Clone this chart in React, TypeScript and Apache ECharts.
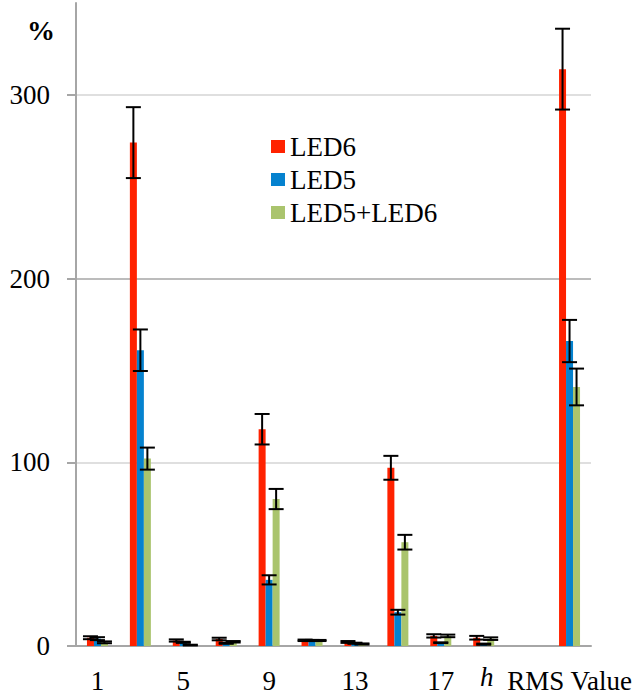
import React, { useEffect, useRef } from "react";
import * as echarts from "echarts";

// Harmonic order h (odd harmonics 1..19), a spacer slot, then the RMS value
const categories = ["1", "3", "5", "7", "9", "11", "13", "15", "17", "19", "", "RMS Value"];
const labelledIndices = [0, 2, 4, 6, 8, 11];

const led6 = [4.5, 274, 3, 3.8, 118, 3.1, 2.2, 97, 5.5, 4.5, null, 314];
const led6Err = [0.8, 19.3, 0.6, 0.7, 8.3, 0.4, 0.5, 6.5, 0.9, 1, null, 22];

const led5 = [4, 161, 2, 1.5, 36, 3, 1.5, 18.4, 1.8, 1, null, 166];
const led5Err = [0.8, 11.3, 0.3, 0.3, 2.5, 0.3, 0.3, 1.3, 0.2, 0.3, null, 11.5];

const ledBoth = [2, 102, 0.5, 2.3, 80, 3, 1.1, 56.5, 5.5, 4, null, 141];
const ledBothErr = [0.5, 6, 0.2, 0.4, 5.5, 0.3, 0.3, 4, 0.7, 0.7, null, 10];

const yTickLabels = [0, 100, 200, 300];

const seriesDefs = [
  { name: "LED6", values: led6, errors: led6Err, color: "#ff2200" },
  { name: "LED5", values: led5, errors: led5Err, color: "#0582cf" },
  { name: "LED5+LED6", values: ledBoth, errors: ledBothErr, color: "#aac46d" },
];

const FONT = "Liberation Serif";
const BAR_WIDTH = 7;
const CAP_HALF = 7.5;

function errorSeries(def: any, slot: number) {
  const offset = (slot - 1) * BAR_WIDTH;
  const data: any[] = [];
  def.values.forEach((v: number | null, i: number) => {
    if (v != null) data.push([i, v, def.errors[i]]);
  });
  return {
    type: "custom",
    name: def.name + " error",
    z: 5,
    silent: true,
    data,
    encode: { x: 0, y: 1 },
    renderItem: (_params: any, api: any) => {
      const i = api.value(0);
      const v = api.value(1);
      const e = api.value(2);
      const hi = api.coord([i, v + e]);
      const lo = api.coord([i, Math.max(0, v - e)]);
      const x = hi[0] + offset;
      const style = { stroke: "#000", lineWidth: 2 };
      return {
        type: "group",
        children: [
          { type: "line", shape: { x1: x, y1: hi[1], x2: x, y2: lo[1] }, style },
          { type: "line", shape: { x1: x - CAP_HALF, y1: hi[1], x2: x + CAP_HALF, y2: hi[1] }, style },
          { type: "line", shape: { x1: x - CAP_HALF, y1: lo[1], x2: x + CAP_HALF, y2: lo[1] }, style },
        ],
      };
    },
  };
}

export default function App() {
  const ref = useRef<HTMLDivElement>(null);

  useEffect(() => {
    document.body.style.margin = "0";
    const chart = echarts.init(ref.current!, undefined, { renderer: "svg" });

    const bars = seriesDefs.map((d) => ({
      type: "bar",
      name: d.name,
      data: d.values,
      barWidth: BAR_WIDTH,
      barGap: "0%",
      itemStyle: { color: d.color },
      z: 2,
    }));

    chart.setOption({
      animation: false,
      backgroundColor: "#ffffff",
      textStyle: { fontFamily: FONT },
      grid: { left: 76, right: 48, top: 3, bottom: 54 },
      legend: {
        orient: "vertical",
        left: 266,
        top: 128,
        icon: "rect",
        itemWidth: 14,
        itemHeight: 13,
        itemGap: 6,
        data: seriesDefs.map((d) => d.name),
        textStyle: { fontFamily: FONT, fontSize: 27, color: "#000" },
      },
      xAxis: {
        type: "category",
        data: categories,
        axisLine: { lineStyle: { color: "#a6a6a6", width: 2 } },
        axisTick: { show: false },
        axisLabel: {
          interval: (index: number) => labelledIndices.includes(index),
          fontFamily: FONT,
          fontSize: 27,
          color: "#000",
          margin: 21,
        },
      },
      yAxis: {
        type: "value",
        min: 0,
        max: 350,
        interval: 50,
        axisLine: { show: true, lineStyle: { color: "#a6a6a6", width: 2 } },
        axisTick: {
          show: true,
          customValues: yTickLabels,
          length: 9,
          lineStyle: { color: "#a6a6a6", width: 2 },
        },
        axisLabel: {
          customValues: yTickLabels,
          fontFamily: FONT,
          fontSize: 27,
          color: "#000",
          margin: 26,
        },
        splitLine: {
          show: true,
          lineStyle: { color: ["#a6a6a6", "#d4d4d4"], width: 1.5 },
        },
      },
      graphic: [
        {
          type: "text",
          left: 27,
          top: 16,
          style: { text: "%", font: "bold 28px Liberation Serif", fill: "#000" },
        },
        {
          type: "text",
          left: 480,
          top: 663,
          style: { text: "h", font: "italic 27px Liberation Serif", fill: "#000" },
        },
      ],
      series: [...bars, ...seriesDefs.map((d, k) => errorSeries(d, k))],
    });

    return () => chart.dispose();
  }, []);

  return (
    <div
      ref={ref}
      style={{ position: "absolute", left: 0, top: 0, width: 639, height: 700, background: "#fff" }}
    />
  );
}
